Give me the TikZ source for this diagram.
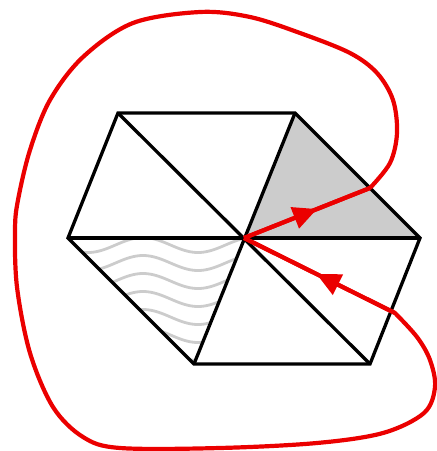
\documentclass[tikz,border=0pt]{standalone}
\usetikzlibrary{arrows.meta,decorations.markings}
\begin{document}
\begin{tikzpicture}[x=1pt,y=-1pt,
  edge/.style={line width=3.3pt,black,line join=miter},
  loopline/.style={line width=4.2pt,red!92!black,line join=round},
  wave/.style={line width=2.8pt,gray!40},
  midarrow/.style={decoration={markings,mark=at position #1 with {\arrow{Triangle[length=24pt,width=22pt]}}},postaction={decorate}}]
\useasboundingbox (0,0) rectangle (437,451);
% vertices
\coordinate (C) at (244,238);
\coordinate (R) at (420,238);
\coordinate (UR) at (295,113);
\coordinate (UL) at (118,113);
\coordinate (L) at (68,238);
\coordinate (LL) at (194,364);
\coordinate (LR) at (370,364);
\coordinate (A) at (370,188);
\coordinate (B) at (395,313);
% shaded triangle
\fill[gray!40] (C) -- (UR) -- (R) -- cycle;
\draw[blue!20,line width=1.3pt] (C) -- (UR) -- (R) -- cycle;
% wavy triangle
\begin{scope}
  \clip (C) -- (L) -- (LL) -- cycle;
  \foreach \c in {245,263,281,299,317,335,353,371}{
    \draw[wave] plot[domain=55:255,samples=90] (\x,{\c-7.5*cos(3.2727*(\x-143))});
  }
\end{scope}
\draw[blue!20,line width=1.3pt] (C) -- (L) -- (LL) -- cycle;
% hexagon
\draw[edge] (L) -- (UL) -- (UR) -- (R) -- (LR) -- (LL) -- cycle;
\draw[edge] (L) -- (R);
\draw[edge] (UL) -- (LR);
\draw[edge] (UR) -- (LL);
% red loop
\draw[loopline] (C) -- (A) plot[smooth,tension=0.55] coordinates {(A) (390,163) (397,133) (393,100) (377,73) (350,53) (300,33) (250,17) (200,12) (133,23) (83,57) (50,100) (30,150) (18,200) (15,230) (17,287) (30,353) (53,407) (83,437) (120,448) (220,448) (317,443) (383,433) (424,413) (435,387) (430,360) (417,337) (B)} -- (C);
\draw[loopline,midarrow=0.58] (C) -- (A);
\draw[loopline,midarrow=0.52] (B) -- (C);
\end{tikzpicture}
\end{document}
